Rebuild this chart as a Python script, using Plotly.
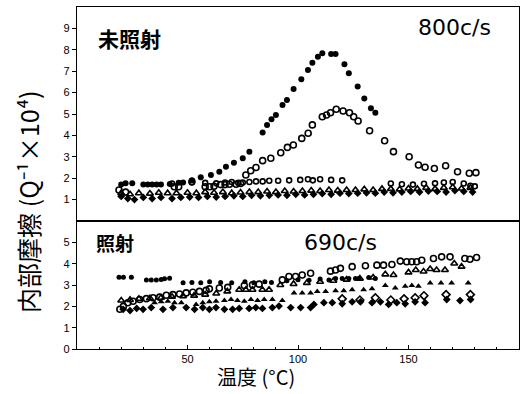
import plotly.graph_objects as go
from plotly.subplots import make_subplots

# ---------------- Data: upper panel (未照射, 800c/s) ----------------
up_fc_x = [20, 22, 25, 30, 32, 34, 36, 38, 42, 46, 48, 52, 56, 60.6, 64.4, 67.4, 71, 75, 78, 84, 86, 88, 90, 93, 95,
           98, 101.5, 104.5, 106.5, 109, 111, 115, 117, 121, 123, 127, 130, 133, 135]
up_fc_y = [1.7, 1.76, 1.76, 1.7, 1.7, 1.7, 1.7, 1.7, 1.73, 1.79, 1.8, 1.9, 2.04, 2.15, 2.3, 2.54, 2.72, 2.93, 3.24, 4.13,
           4.49, 4.75, 4.95, 5.42, 5.65, 6.17, 6.62, 7.06, 7.4, 7.68, 7.84, 7.8, 7.8, 7.32, 6.9, 6.28, 5.73, 5.27, 5.06]

up_oc_x = [19, 22, 44, 46, 52, 58, 60, 62, 65, 67, 69, 72, 74, 76.4, 78.6, 81, 84, 87.7, 92.2, 95.2, 97.9, 101.7,
           104.6, 106.5, 111, 112.9, 114.7, 117.3, 120.4, 123.3, 125.2, 127.2, 132.4, 139.2, 143.2, 150.3, 154.5,
           157.5, 161.7, 166.8, 172.2, 177.5, 180.5]
up_oc_y = [1.45, 1.35, 1.6, 1.6, 1.84, 1.6, 1.6, 1.62, 1.7, 1.7, 1.72, 1.72, 1.75, 2.15, 2.35, 2.5, 2.82, 2.93, 3.19,
           3.44, 3.55, 3.86, 4.1, 4.49, 4.87, 4.95, 5.06, 5.22, 5.14, 5.06, 4.87, 4.67, 4.22, 3.75, 3.24, 3.0, 2.62,
           2.51, 2.45, 2.58, 2.3, 2.23, 2.26]

up_od_x = [43, 52, 58, 63, 67, 70, 73, 75, 78, 81, 84, 87, 91, 96, 101, 104.5, 106.7, 110, 115, 120, 142, 147, 152,
           157, 162, 166, 170, 175, 178, 180]
up_od_y = [1.75, 1.8, 1.78, 1.76, 1.8, 1.82, 1.78, 1.8, 1.82, 1.85, 1.85, 1.88, 1.88, 1.9, 1.92, 1.95, 1.9, 1.95,
           1.92, 1.9, 1.75, 1.72, 1.7, 1.74, 1.76, 1.8, 1.82, 1.75, 1.65, 1.62]

up_ot_x = [20, 24, 28, 33, 37, 41, 45, 50, 54, 58, 62, 66, 70, 74, 78, 82, 86, 90, 94, 98, 102, 106, 110, 114, 118,
           122, 126, 130, 134, 138, 142, 146, 150, 154, 158, 162, 166, 170, 174, 178]
up_ot_y = [1.3, 1.25, 1.3, 1.28, 1.32, 1.3, 1.3, 1.32, 1.3, 1.35, 1.32, 1.35, 1.3, 1.33, 1.35, 1.35, 1.38, 1.35, 1.4,
           1.38, 1.4, 1.42, 1.4, 1.45, 1.42, 1.45, 1.45, 1.48, 1.45, 1.5, 1.5, 1.48, 1.52, 1.5, 1.55, 1.5, 1.55, 1.58,
           1.52, 1.55]

up_fd_x = [20, 23, 26, 30, 34, 38, 43, 47, 51, 55, 59, 63, 67, 71, 75, 79, 83, 87, 91, 95, 99, 103, 107, 111, 115,
           119, 123, 127, 131, 135, 139, 143, 147, 151, 155, 159, 163, 167, 171, 175, 179]
up_fd_y = [1.15, 1.05, 1.0, 1.1, 1.05, 1.1, 1.05, 1.1, 1.12, 1.1, 1.15, 1.12, 1.15, 1.18, 1.15, 1.2, 1.18, 1.2, 1.22,
           1.2, 1.25, 1.22, 1.25, 1.28, 1.25, 1.3, 1.28, 1.3, 1.32, 1.3, 1.35, 1.32, 1.35, 1.38, 1.35, 1.4, 1.38,
           1.35, 1.42, 1.38, 1.35]

# ---------------- Data: lower panel (照射, 690c/s) ----------------
lo_fc_x = [19, 21, 24.6, 31.4, 33.6, 35.9, 38.1, 39.6, 41.9, 48, 52, 56, 60, 65, 70, 76, 80, 85, 88, 95, 100, 105,
           110, 114, 117, 120, 123, 126, 127.5, 132, 135]
lo_fc_y = [3.36, 3.36, 3.36, 3.24, 3.24, 3.24, 3.26, 3.29, 3.32, 3.1, 3.12, 3.1, 3.15, 3.12, 3.1, 3.15, 3.1, 3.15,
           3.12, 3.2, 3.25, 3.22, 3.28, 3.24, 3.3, 3.3, 3.3, 3.3, 3.3, 3.35, 3.3]

lo_oc_x = [19.4, 21, 23, 25.4, 28.4, 31.4, 34.4, 37.4, 40.4, 43.4, 46.4, 49.4, 52.4, 55.4, 58.4, 59.9, 64.4, 68.2,
           75.7, 79.4, 82.4, 92.9, 95.9, 98.9, 101.9, 105.7, 114.7, 117, 119.2, 124.5, 130.5, 135.7, 138.7, 142.5,
           146.3, 149.2, 151.5, 153.7, 156, 161.3, 165, 168.8, 175.5, 177.8, 180.8]
lo_oc_y = [1.86, 2.0, 2.17, 2.24, 2.32, 2.36, 2.4, 2.43, 2.52, 2.55, 2.58, 2.63, 2.66, 2.7, 2.75, 2.82, 2.86, 2.89,
           2.98, 3.01, 3.04, 3.24, 3.4, 3.4, 3.47, 3.55, 3.65, 3.7, 3.78, 3.86, 3.9, 3.93, 3.93, 3.96, 4.12, 4.09,
           4.09, 4.09, 4.16, 4.24, 4.32, 4.32, 4.24, 4.21, 4.29]

lo_ot_x = [20, 24, 28, 33, 38, 43, 48, 53, 58, 63, 68, 73.4, 76.4, 79.4, 83.9, 86.9, 92, 98, 104, 110, 116, 122,
           128, 134, 139.5, 143.2, 150, 153.3, 156.8, 159.8, 162.7, 166.5, 170.7, 174]
lo_ot_y = [2.27, 2.3, 2.35, 2.38, 2.4, 2.45, 2.48, 2.5, 2.55, 2.6, 2.7, 2.78, 2.78, 2.78, 2.78, 2.78, 3.0, 3.05, 3.1,
           3.15, 3.2, 3.25, 3.3, 3.35, 3.5, 3.47, 3.59, 3.7, 3.63, 3.75, 3.7, 3.7, 4.01, 3.86]

lo_ft_x = [35.1, 38.1, 41.1, 44.1, 47.2, 53.9, 56.9, 59.9, 62.9, 66.7, 69.7, 72.6, 75.7, 78.7, 81.7, 84.7, 88.4, 92.9,
           98.2, 101.9, 105.7, 108.7, 112.5, 117, 120.7, 124.5, 129.7, 133.5, 139.5, 144, 148.5, 151.5, 154.5, 159.8,
           164.7, 169.5, 177]
lo_ft_y = [2.17, 2.21, 2.24, 2.17, 2.17, 2.09, 2.17, 2.21, 2.24, 2.27, 2.32, 2.27, 2.24, 2.32, 2.27, 2.32, 2.32, 2.27,
           2.63, 2.63, 2.63, 2.7, 2.7, 2.73, 2.73, 2.78, 2.78, 2.82, 2.98, 2.86, 2.94, 2.98, 2.94, 3.09, 3.09, 3.09,
           3.09]

lo_fd_x = [20.9, 24, 27, 29.9, 33.6, 38.9, 43.4, 49.4, 53.2, 56.9, 59.9, 62.9, 66.7, 70.4, 73.4, 77.9, 80.9, 83.9,
           88.4, 91.4, 96.7, 101.2, 105.7, 107.2, 111.7, 115.5, 120, 124.5, 128.3, 133.5, 137.3, 141, 144.7, 148.5,
           153, 157.5, 167.3, 173.3, 178.1]
lo_fd_y = [1.86, 1.8, 1.9, 1.86, 1.94, 1.86, 1.94, 1.94, 1.86, 1.94, 1.86, 1.94, 1.86, 1.86, 1.9, 1.9, 1.94, 1.9,
           1.94, 2.01, 1.94, 1.94, 1.94, 2.09, 2.17, 2.17, 2.12, 2.21, 2.21, 2.17, 2.21, 2.09, 2.17, 2.12, 2.21,
           2.17, 2.32, 2.27, 2.32]

lo_od_x = [120, 128, 135, 142, 148, 153, 157, 167, 178]
lo_od_y = [2.35, 2.3, 2.4, 2.3, 2.35, 2.4, 2.5, 2.55, 2.55]

x_ticks = [50, 100, 150]
up_ticks = [1, 2, 3, 4, 5, 6, 7, 8, 9]
lo_ticks = [0, 1, 2, 3, 4, 5]

# ---------------- Figure ----------------
fig = make_subplots(rows=2, cols=1, shared_xaxes=True, vertical_spacing=0,
                    row_heights=[214 / 342, 128 / 342])

def add(x, y, symbol, row, size=6):
    openm = symbol.endswith("-open")
    fig.add_trace(go.Scatter(
        x=x, y=y, mode="markers", showlegend=False,
        marker=dict(symbol=symbol, size=size, color="black",
                    line=dict(color="black", width=1.6 if openm else 0)),
    ), row=row, col=1)

add(up_fd_x, up_fd_y, "diamond", 1, 6)
add(up_ot_x, up_ot_y, "triangle-up-open", 1, 6)
add(up_od_x, up_od_y, "circle-open", 1, 5)
add(up_oc_x, up_oc_y, "circle-open", 1, 6)
add(up_fc_x, up_fc_y, "circle", 1, 6)

add(lo_fd_x, lo_fd_y, "diamond", 2, 6)
add(lo_od_x, lo_od_y, "diamond-open", 2, 6)
add(lo_ft_x, lo_ft_y, "triangle-up", 2, 6)
add(lo_ot_x, lo_ot_y, "triangle-up-open", 2, 6)
add(lo_oc_x, lo_oc_y, "circle-open", 2, 6)
add(lo_fc_x, lo_fc_y, "circle", 2, 5)

tickfont = dict(family="Liberation Sans", size=11, color="black")
axis_common = dict(showline=True, mirror=True, linecolor="black", linewidth=1.4,
                   showgrid=False, zeroline=False)

fig.update_xaxes(range=[0, 200], **axis_common)
fig.update_xaxes(ticks="", showticklabels=False, row=1, col=1)
fig.update_xaxes(tickvals=x_ticks, ticks="inside", ticklen=4, tickcolor="black",
                 tickfont=dict(family="Liberation Sans", size=11, color="black"),
                 minor=dict(dtick=10, ticks="inside", ticklen=2, tickcolor="black"),
                 row=2, col=1)
fig.update_yaxes(**axis_common)
fig.update_yaxes(range=[0, 10], tickvals=up_ticks, ticks="outside", ticklen=4,
                 tickcolor="black", tickfont=tickfont, row=1, col=1)
fig.update_yaxes(range=[0, 6], tickvals=lo_ticks, ticks="outside", ticklen=4,
                 tickcolor="black", tickfont=tickfont, row=2, col=1)

jp = "Noto Sans CJK JP"
annos = [
    dict(text="<b>未照射</b>", x=0.118, y=0.909, font=dict(family=jp, size=21)),
    dict(text="800c/s", x=0.855, y=0.94, font=dict(family="DejaVu Sans", size=22)),
    dict(text="<b>照射</b>", x=0.085, y=0.311, font=dict(family=jp, size=19)),
    dict(text="690c/s", x=0.597, y=0.311, font=dict(family="DejaVu Sans", size=22)),
    dict(text="温度 (°C)", x=0.405, y=-0.1287, yanchor="bottom", font=dict(family=jp, size=20)),
    dict(text="内部摩擦 (Q⁻¹×10⁴)", x=-0.111, y=0.43, textangle=-90,
         font=dict(family=jp, size=25)),
]
for a in annos:
    a.setdefault("yanchor", "middle")
    a.update(xref="paper", yref="paper", showarrow=False, xanchor="center")
    a["font"]["color"] = "black"
    fig.add_annotation(**a)

fig.update_layout(width=528, height=394, margin=dict(l=77, r=9, t=7, b=45),
                  paper_bgcolor="white", plot_bgcolor="white")

fig.write_html("out.html", config={"displayModeBar": False},
               post_script="document.body.style.margin='0px';document.body.style.padding='0px';")
